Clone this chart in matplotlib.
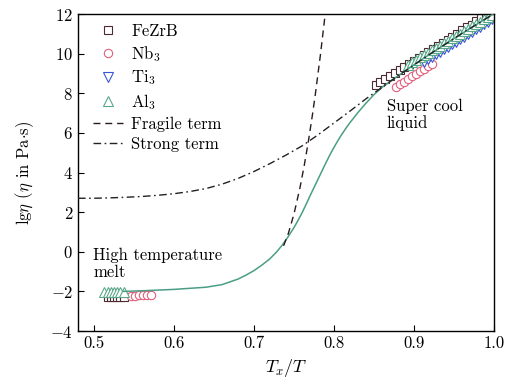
import matplotlib
matplotlib.use('Agg')
import matplotlib.pyplot as plt

plt.rcParams['font.family'] = 'serif'
plt.rcParams['font.serif'] = ['cmr10', 'DejaVu Serif']
plt.rcParams['mathtext.fontset'] = 'cm'
plt.rcParams['axes.formatter.use_mathtext'] = True
plt.rcParams['axes.unicode_minus'] = True

# measured viscosity points (lg eta) against Tx/T
fezrb_x = [0.517, 0.521, 0.525, 0.529, 0.533, 0.537,
           0.852, 0.858, 0.864, 0.870, 0.876, 0.882, 0.888, 0.894, 0.900,
           0.906, 0.912, 0.918, 0.924, 0.930, 0.936, 0.942, 0.948, 0.954,
           0.960, 0.966, 0.972, 0.978, 0.984, 0.990, 0.996]
fezrb_y = [-2.30, -2.30, -2.29, -2.29, -2.28, -2.28,
           8.40, 8.55, 8.71, 8.86, 9.01, 9.17, 9.32, 9.48, 9.63,
           9.78, 9.94, 10.09, 10.24, 10.40, 10.55, 10.70, 10.86, 11.01,
           11.17, 11.32, 11.47, 11.63, 11.78, 11.93, 12.09]

nb3_x = [0.546, 0.551, 0.556, 0.561, 0.566, 0.571,
         0.878, 0.883, 0.888, 0.893, 0.898, 0.903, 0.908, 0.913, 0.918, 0.923]
nb3_y = [-2.21, -2.21, -2.20, -2.20, -2.19, -2.19,
         8.33, 8.46, 8.59, 8.72, 8.85, 8.98, 9.11, 9.24, 9.37, 9.50]

ti3_x = [0.913, 0.918, 0.923, 0.928, 0.933, 0.938, 0.943, 0.948, 0.953,
         0.958, 0.963, 0.968, 0.973, 0.978, 0.983, 0.988, 0.993, 0.998]
ti3_y = [9.60, 9.73, 9.85, 9.98, 10.10, 10.23, 10.35, 10.48, 10.60,
         10.73, 10.85, 10.98, 11.10, 11.23, 11.35, 11.48, 11.60, 11.73]

al3_x = [0.513, 0.517, 0.521, 0.525, 0.529, 0.533, 0.537,
         0.893, 0.898, 0.903, 0.908, 0.913, 0.918, 0.923, 0.928, 0.933,
         0.938, 0.943, 0.948, 0.953, 0.958, 0.963, 0.968, 0.973, 0.978,
         0.983, 0.988, 0.993, 0.998]
al3_y = [-2.05, -2.05, -2.04, -2.04, -2.03, -2.03, -2.02,
         9.45, 9.57, 9.69, 9.81, 9.93, 10.05, 10.17, 10.29, 10.41,
         10.53, 10.65, 10.77, 10.89, 11.01, 11.13, 11.25, 11.37, 11.49,
         11.61, 11.73, 11.85, 11.97]

# fitted curves
fit_x = [0.537, 0.56, 0.60, 0.64, 0.66, 0.68, 0.69, 0.70, 0.71, 0.72, 0.728,
         0.735, 0.742, 0.75, 0.755, 0.76, 0.765, 0.77, 0.775, 0.78, 0.785,
         0.79, 0.795, 0.80, 0.805, 0.81, 0.815, 0.82, 0.83, 0.84, 0.85,
         0.86, 0.88, 0.90, 0.92, 0.94, 0.96, 0.98, 1.00]
fit_y = [-2.00, -1.97, -1.90, -1.79, -1.66, -1.38, -1.18, -0.95, -0.67, -0.35, -0.02,
         0.32, 0.72, 1.22, 1.58, 1.96, 2.38, 2.82, 3.24, 3.66, 4.08,
         4.50, 4.90, 5.27, 5.62, 5.94, 6.24, 6.52, 7.03, 7.50, 7.93,
         8.30, 8.88, 9.44, 9.98, 10.50, 11.02, 11.52, 12.02]

fragile_x = [0.737, 0.743, 0.750, 0.7575, 0.763, 0.768, 0.773, 0.777, 0.783, 0.789, 0.792]
fragile_y = [0.30, 0.93, 1.91, 3.24, 4.40, 5.58, 6.90, 8.05, 9.93, 12.00, 13.00]

strong_x = [0.48, 0.50, 0.52, 0.54, 0.56, 0.58, 0.60, 0.62, 0.64, 0.66, 0.68,
            0.70, 0.72, 0.74, 0.76, 0.78, 0.80, 0.82, 0.84, 0.88, 0.92, 0.96, 1.00]
strong_y = [2.70, 2.70, 2.72, 2.75, 2.79, 2.85, 2.93, 3.04, 3.19, 3.41, 3.70,
            4.05, 4.45, 4.88, 5.34, 5.90, 6.50, 7.10, 7.72, 8.88, 9.98, 11.02, 12.02]

fig = plt.figure(figsize=(5.07, 3.88), dpi=100)
ax = fig.add_axes([0.1538, 0.1469, 0.8206, 0.8170])

mk = dict(ls='none', mfc='white', mew=0.8, zorder=2)
ax.plot(fezrb_x, fezrb_y, marker='s', ms=5.5, mec='#4b2a33', label='FeZrB', **mk)
ax.plot(nb3_x, nb3_y, marker='o', ms=6, mec='#e0607e', label='Nb$_3$', **mk)
ax.plot(ti3_x, ti3_y, marker='v', ms=6.5, mec='#3a56d4', label='Ti$_3$', **mk)
ax.plot(al3_x, al3_y, marker='^', ms=6.5, mec='#5aa88a', label='Al$_3$', **mk)

ax.plot(fit_x, fit_y, color='#4a9e86', lw=1.1, zorder=3)
ax.plot(fragile_x, fragile_y, color='#2a1a20', lw=1.0, dashes=(5, 3.5),
        label='Fragile term', zorder=3)
ax.plot(strong_x, strong_y, color='#222222', lw=1.0, dashes=(5.5, 2.5, 1.2, 2.5),
        label='Strong term', zorder=3)

ax.text(0.499, -0.62, 'High temperature\nmelt', fontsize=12, va='center', ha='left',
        linespacing=1.1)
ax.text(0.866, 6.9, 'Super cool\nliquid', fontsize=12, va='center', ha='left',
        linespacing=1.1)

ax.set_xlim(0.48, 1.0)
ax.set_ylim(-4, 12)
ax.set_xticks([0.5, 0.6, 0.7, 0.8, 0.9, 1.0])
ax.set_xticklabels(['0.5', '0.6', '0.7', '0.8', '0.9', '1.0'])
ax.set_yticks([-4, -2, 0, 2, 4, 6, 8, 10, 12])
ax.tick_params(direction='in', length=4, width=0.8, labelsize=12)
for s in ax.spines.values():
    s.set_linewidth(1.0)

ax.set_xlabel('$T_x/T$', fontsize=13, labelpad=4)
ax.set_ylabel(r'lg$\eta$ ($\eta$ in Pa$\cdot$s)', fontsize=12, labelpad=10)

ax.legend(loc='upper left', frameon=False, fontsize=12, handlelength=1.8,
          handletextpad=0.5, labelspacing=0.28, borderaxespad=0.2,
          bbox_to_anchor=(0.012, 1.0))

fig.savefig('out.png', dpi=100)
